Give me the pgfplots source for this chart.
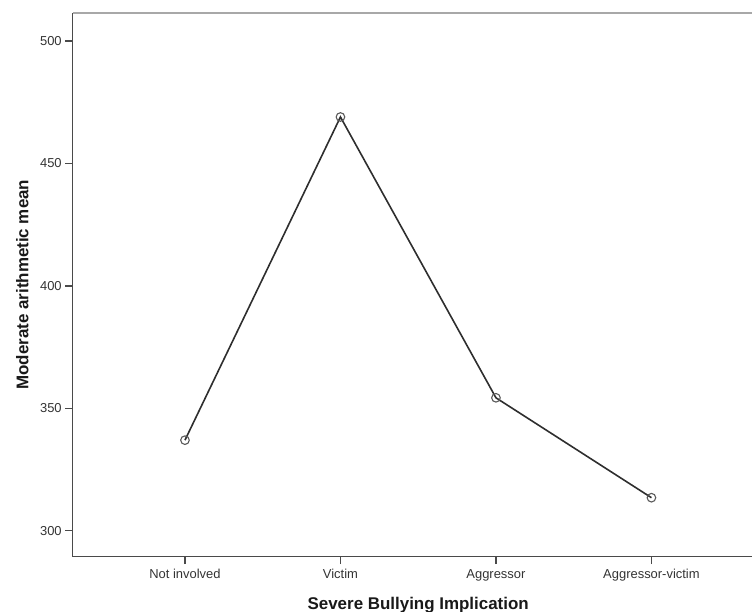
\documentclass[border=0pt]{standalone}
\usepackage{pgfplots}
\pgfplotsset{compat=1.18}
\usepackage{fontspec}
\setmainfont{Liberation Sans}
\definecolor{spine}{HTML}{4A4A4A}
\definecolor{topspine}{HTML}{A8A8A8}
\definecolor{dataline}{HTML}{2E2E2E}
\begin{document}
\begin{tikzpicture}[x=1bp,y=1bp]
\begin{axis}[
  at={(0,0)}, anchor=south west,
  scale only axis, width=691bp, height=544bp,
  xmin=-0.722, xmax=3.722, ymin=289.4, ymax=511.6,
  axis x line*=bottom, axis y line*=left,
  axis line style={spine, line width=1.5bp},
  xtick={0,1,2,3},
  xticklabels={Not involved,Victim,Aggressor,Aggressor-victim},
  ytick={300,350,400,450,500},
  tick align=outside, major tick length=7.5bp,
  tick style={spine, line width=1.3bp},
  ticklabel style={font=\fontsize{13}{15}\selectfont, text=black!80},
  xticklabel style={text height=9.5bp, text depth=2.8bp, inner ysep=5bp},
  /pgf/number format/assume math mode=true,
  xlabel={Severe Bullying Implication},
  ylabel={Moderate arithmetic mean},
  label style={font=\bfseries\fontsize{17}{20}\selectfont, text=black!90},
  xlabel style={at={(axis description cs:0.5,-0.0967)}, anchor=base},
  ylabel style={at={(axis description cs:-0.0643,0.5)}, anchor=base},
  clip=false,
]
\addplot[dataline, line width=1.6bp, mark=o, mark size=4.3bp,
  mark options={draw=black!65, line width=1.1bp, fill=none}]
  coordinates {(0,337.0) (1,469.0) (2,354.3) (3,313.5)};
\draw[topspine, line width=2.2bp] (rel axis cs:0,1) -- (rel axis cs:1,1);
\end{axis}
\pgfresetboundingbox
\useasboundingbox (-72.7,-55.3) rectangle (679.3,556.7);
\end{tikzpicture}
\end{document}
